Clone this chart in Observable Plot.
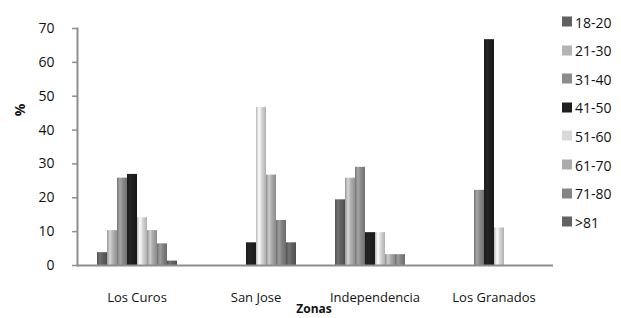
<!DOCTYPE html>
<html>
<head>
<meta charset="utf-8">
<script src="https://cdn.jsdelivr.net/npm/d3@7"></script>
<script src="https://cdn.jsdelivr.net/npm/@observablehq/plot@0.6"></script>
<style>
  html, body { margin: 0; padding: 0; background: #fff; }
  #wrap { position: relative; width: 621px; height: 318px; overflow: hidden; font-family: "Open Sans", sans-serif; color: #111; }
  #wrap svg { position: absolute; left: 0; top: 0; }
  .ylab { position: absolute; left: 20px; top: 110px; transform: translate(-50%, -50%) rotate(-90deg); font-weight: bold; font-size: 14px; line-height: 1; }
  .xlab { position: absolute; left: 314px; top: 309px; transform: translate(-50%, -50%); font-weight: bold; font-size: 12px; line-height: 1; }
  .legend { position: absolute; left: 562px; top: 0; }
  .legend .row { position: absolute; left: 0; display: flex; align-items: center; white-space: nowrap; font-size: 14px; transform: translateY(-50%); }
  .legend .sw { width: 10px; height: 10px; margin-right: 3px; }
</style>
</head>
<body>
<div id="wrap"></div>
<script>
const zones = ["Los Curos", "San Jose", "Independencia", "Los Granados"];
const ages = ["18-20", "21-30", "31-40", "41-50", "51-60", "61-70", "71-80", ">81"];
const losCuros = [3.8, 10.3, 25.8, 26.9, 14.1, 10.3, 6.4, 1.3];
const sanJose = [0, 0, 0, 6.7, 46.7, 26.7, 13.3, 6.7];
const independencia = [19.4, 25.8, 29.0, 9.7, 9.7, 3.2, 3.2, 0];
const losGranados = [0, 0, 22.2, 66.7, 11.1, 0, 0, 0];
const colors = ["#606060", "#b4b4b4", "#8c8c8c", "#1f1f1f", "#d9d9d9", "#acacac", "#858585", "#626262"];
const yTicks = [0, 10, 20, 30, 40, 50, 60, 70];

const series = [losCuros, sanJose, independencia, losGranados];
const data = [];
zones.forEach((z, zi) => ages.forEach((a, ai) => {
  const v = series[zi][ai];
  if (v > 0) data.push({zone: z, age: a, value: v});
}));

const W = 621, H = 318;
const chart = Plot.plot({
  width: W,
  height: H,
  marginLeft: 76,
  marginRight: 68,
  marginTop: 28,
  marginBottom: 53,
  style: {fontFamily: "Open Sans, sans-serif", fontSize: "14px", color: "#111", background: "transparent"},
  fx: {domain: zones, padding: 0, label: null},
  x: {domain: ages, paddingInner: 0, paddingOuter: 1.55, axis: null},
  y: {domain: [0, 70], label: null},
  color: {domain: ages, range: colors},
  marks: [
    Plot.barY(data, {fx: "zone", x: "age", y: "value", fill: "age", inset: 0}),
    Plot.ruleY([0], {stroke: "#8e8e8e", strokeWidth: 2}),
    Plot.frame({anchor: "left", facetAnchor: "left", stroke: "#8e8e8e", strokeWidth: 2}),
    Plot.axisY(yTicks, {tickSize: 5, tickPadding: 18, stroke: "#8e8e8e", strokeWidth: 1.5, fill: "#111", fontSize: 14, label: null}),
    Plot.axisFx({anchor: "bottom", tickSize: 0, tickPadding: 27, fontSize: 13, fill: "#111", label: null})
  ]
});

// cylinder-like shading like the original
const ns = "http://www.w3.org/2000/svg";
const defs = document.createElementNS(ns, "defs");
colors.forEach((c, i) => {
  const g = document.createElementNS(ns, "linearGradient");
  g.setAttribute("id", "grad" + i);
  g.setAttribute("x1", "0"); g.setAttribute("x2", "1"); g.setAttribute("y1", "0"); g.setAttribute("y2", "0");
  const base = d3.color(c);
  const stops = [[0, base.darker(0.5)], [0.3, base.brighter(0.5)], [0.55, base], [1, base.darker(0.6)]];
  stops.forEach(([o, col]) => {
    const s = document.createElementNS(ns, "stop");
    s.setAttribute("offset", o);
    s.setAttribute("stop-color", col.formatHex());
    g.appendChild(s);
  });
  defs.appendChild(g);
});
chart.insertBefore(defs, chart.firstChild);
const colorIndex = new Map(colors.map((c, i) => [d3.color(c).formatHex(), i]));
chart.querySelectorAll('g[aria-label="bar"] rect').forEach(r => {
  const f = r.getAttribute("fill");
  if (!f) return;
  const col = d3.color(f);
  if (!col) return;
  const idx = colorIndex.get(col.formatHex());
  if (idx !== undefined) r.setAttribute("fill", "url(#grad" + idx + ")");
});

const wrap = document.getElementById("wrap");
wrap.appendChild(chart);

const ylab = document.createElement("div");
ylab.className = "ylab"; ylab.textContent = "%";
wrap.appendChild(ylab);
const xlab = document.createElement("div");
xlab.className = "xlab"; xlab.textContent = "Zonas";
wrap.appendChild(xlab);

const legend = document.createElement("div");
legend.className = "legend";
ages.forEach((a, i) => {
  const row = document.createElement("div");
  row.className = "row";
  row.style.top = (21.5 + i * 28.6) + "px";
  const sw = document.createElement("span");
  sw.className = "sw"; sw.style.background = colors[i];
  const t = document.createElement("span");
  t.textContent = a;
  row.appendChild(sw); row.appendChild(t);
  legend.appendChild(row);
});
wrap.appendChild(legend);
</script>
</body>
</html>
